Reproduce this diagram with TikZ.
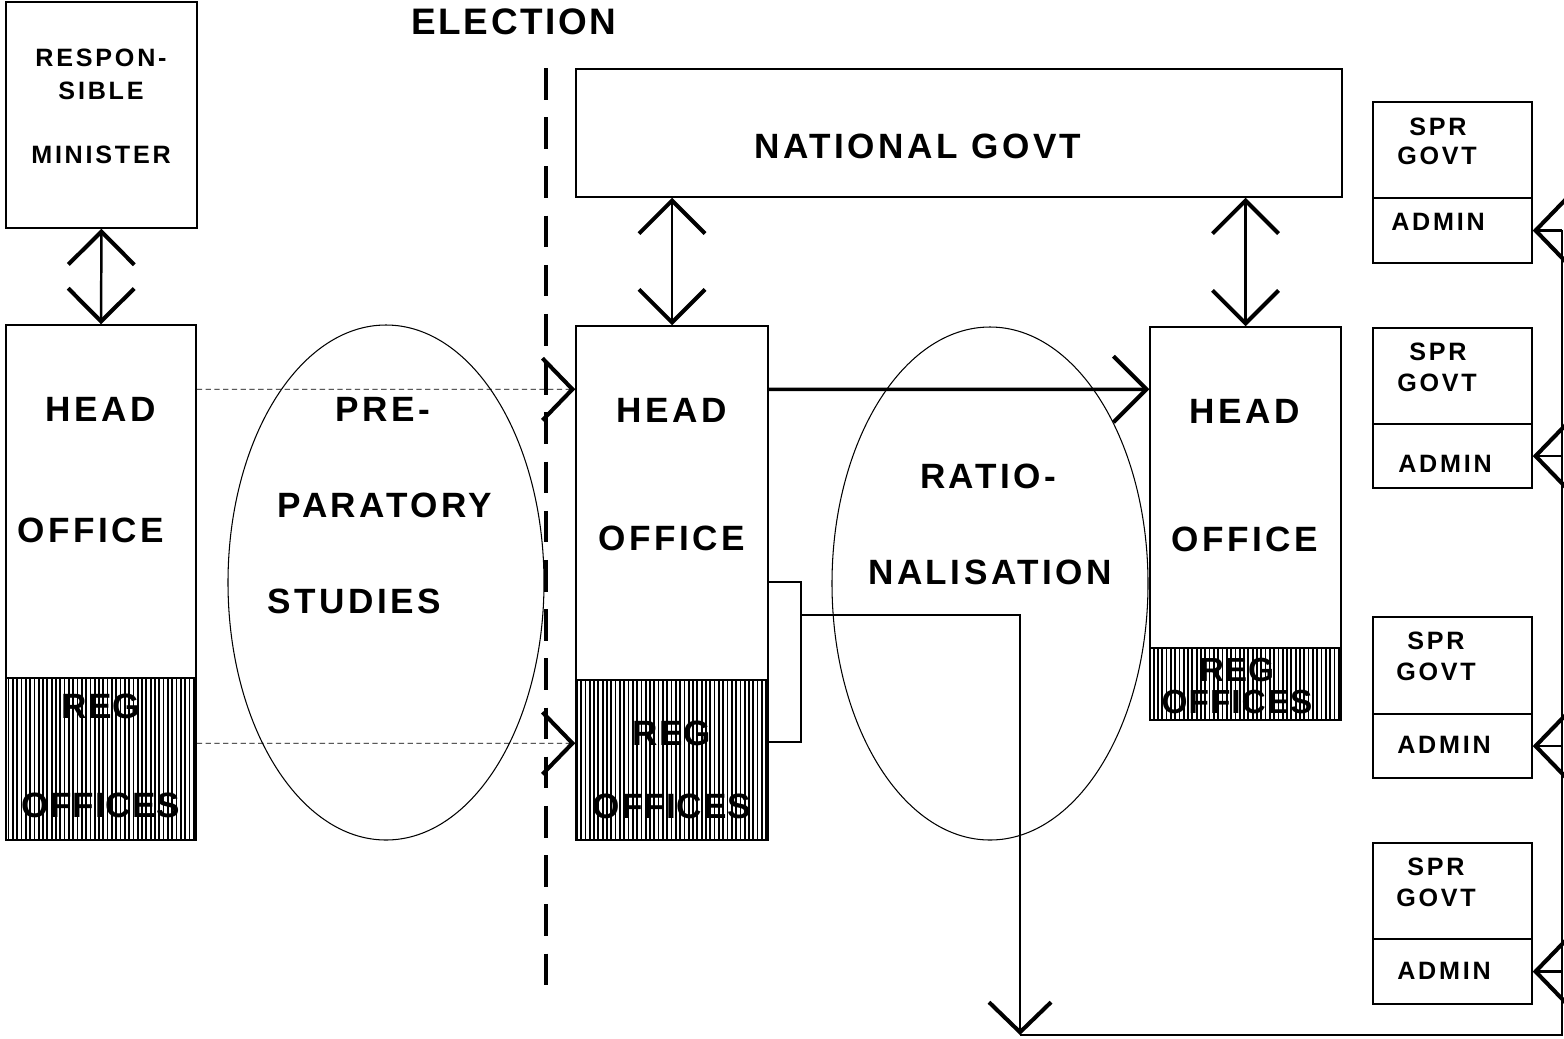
\documentclass[tikz,border=0pt]{standalone}
\usepackage{fontspec}
\setmainfont{Liberation Sans}[LetterSpace=10]
\newfontfamily\smf{Liberation Sans}[LetterSpace=11]
\newfontfamily\hatchf{Liberation Sans}[LetterSpace=3]
\newfontfamily\elecf{Liberation Sans}[LetterSpace=7]
\usetikzlibrary{arrows.meta,shapes.geometric,fit,patterns.meta,calc}
\tikzset{
  box/.style={draw, line width=0.85pt, inner sep=0pt},
  hatchbox/.style={draw, line width=0.85pt, inner sep=0pt,
    pattern={Lines[angle=90,distance=2.45pt,line width=1pt]}},
  big/.style={font=\fontsize{20}{24}\selectfont\bfseries, inner sep=0pt},
  hatchtext/.style={font=\hatchf\fontsize{20}{24}\selectfont\bfseries, inner sep=0pt},
  hatchsmall/.style={font=\hatchf\fontsize{19}{22}\selectfont\bfseries, inner sep=0pt},
  small/.style={font=\smf\fontsize{14.3}{17}\selectfont\bfseries, inner sep=0pt},
  oval/.style={draw, ellipse, line width=0.6pt, inner sep=0pt},
  Vee/.tip={Straight Barb[length=0.66cm, width=1.32cm, line width=2.3pt]},
  Veesm/.tip={Straight Barb[length=0.6cm, width=1.24cm, line width=2.3pt]},
  dbl/.style={line width=1.4pt, {Vee}-{Vee}},
  thick arrow/.style={line width=2pt, -{Vee}},
  thin dash/.style={line width=0.5pt, dash pattern=on 3pt off 2pt, -{Veesm}},
  conn/.style={line width=1.2pt},
  electionline/.style={line width=2.3pt, dash pattern=on 18pt off 10pt},
}
\begin{document}
\begin{tikzpicture}[x=0.02cm, y=-0.02cm]
\useasboundingbox (0,0) rectangle (1564,1038);
\fill[white] (0,0) rectangle (1564,1038);

% Responsible minister
\node[box, fit={(6,2)(197,228)}] (rm) {};
\node[small] (rm1) at (101,58) {RESPON-};
\node[small] (rm2) at (101,91) {SIBLE};
\node[small] (rm3) at (101,155) {MINISTER};

% Left head office
\node[box, fit={(6,325)(196,840)}] (ho1) {};
\node[hatchbox, fit={(6,678)(196,840)}] (rg1) {};
\node[big] (ho1a) at (101,409) {HEAD};
\node[big] (ho1b) at (91,530) {OFFICE};
\node[hatchtext] (rg1a) at (101,706) {REG};
\node[hatchtext] (rg1b) at (101,805) {OFFICES};

% Ellipse 1
\node[oval, minimum width=316*0.02cm, minimum height=515*0.02cm] (el1) at (386,582.5) {};
\node[big] (el1a) at (383,409) {PRE-};
\node[big] (el1b) at (385,505) {PARATORY};
\node[big] (el1c) at (354,601) {STUDIES};

% Election
\node[font=\elecf\fontsize{21}{25}\selectfont\bfseries, inner sep=0pt] (elec) at (514,22) {ELECTION};
\coordinate (elt) at (546,68);
\coordinate (elb) at (546,1002);
\draw[electionline] (elt) -- (elb);

% National govt
\node[box, fit={(576,69)(1342,197)}] (ng) {};
\node[big] (nga) at (918,146) {NATIONAL GOVT};

% Middle head office
\node[box, fit={(576,326)(768,840)}] (ho2) {};
\node[hatchbox, fit={(576,680)(768,840)}] (rg2) {};
\node[big] (ho2a) at (672,410) {HEAD};
\node[big] (ho2b) at (672,538) {OFFICE};
\node[hatchtext] (rg2a) at (672,733) {REG};
\node[hatchtext] (rg2b) at (672,806) {OFFICES};

% Ellipse 2
\node[oval, minimum width=316*0.02cm, minimum height=513*0.02cm] (el2) at (990,583.5) {};
\node[big] (el2a) at (988,476) {RATIO-};
\node[big] (el2b) at (990,572) {NALISATION};

% Right head office
\node[box, fit={(1150,327)(1341,720)}] (ho3) {};
\node[hatchbox, fit={(1150,648)(1341,720)}] (rg3) {};
\node[big] (ho3a) at (1245,411) {HEAD};
\node[big] (ho3b) at (1245,539) {OFFICE};
\node[hatchsmall] (rg3a) at (1237,670) {REG};
\node[hatchsmall] (rg3b) at (1237,702) {OFFICES};

% SPR boxes
\node[box, fit={(1373,102)(1532,198)}] (sp1) {};
\node[box, fit={(1373,198)(1532,263)}] (ad1) {};
\node[box, fit={(1373,328)(1532,424)}] (sp2) {};
\node[box, fit={(1373,424)(1532,488)}] (ad2) {};
\node[box, fit={(1373,617)(1532,714)}] (sp3) {};
\node[box, fit={(1373,714)(1532,778)}] (ad3) {};
\node[box, fit={(1373,843)(1532,939)}] (sp4) {};
\node[box, fit={(1373,939)(1532,1004)}] (ad4) {};
\node[small] (sp1a) at (1438,127) {SPR};
\node[small] (sp1b) at (1437,156) {GOVT};
\node[small] (ad1a) at (1438,222) {ADMIN};
\node[small] (sp2a) at (1438,352) {SPR};
\node[small] (sp2b) at (1437,383) {GOVT};
\node[small] (ad2a) at (1445,464) {ADMIN};
\node[small] (sp3a) at (1436,641) {SPR};
\node[small] (sp3b) at (1436,672) {GOVT};
\node[small] (ad3a) at (1444,745) {ADMIN};
\node[small] (sp4a) at (1436,867) {SPR};
\node[small] (sp4b) at (1436,898) {GOVT};
\node[small] (ad4a) at (1444,971) {ADMIN};

% Double arrows
\draw[dbl] (rm.south) -- (ho1.north);
\draw[dbl] (ho2.north |- ng.south) -- (ho2.north);
\draw[dbl] (ho3.north |- ng.south) -- (ho3.north);

% Dashed links across the election
\draw[thin dash] ($(ho1.north east)+(0,65)$) -- ($(ho2.north west)+(0,64)$);
\draw[thin dash] ($(ho1.north east)+(0,419)$) -- ($(ho2.north west)+(0,418)$);

% Head office to head office
\draw[thick arrow] ($(ho2.north east)+(0,64)$) -- ($(ho3.north west)+(0,63)$);

% Bracket and connector to the SPR admins
\draw[conn] ($(ho2.north east)+(0,257)$) -- ++(32,0) -- ++(0,160) -- ++(-32,0);
\coordinate (br) at (800,615);
\coordinate (bot) at (1020,1035);
\coordinate (rail) at (1562,1035);
\coordinate (railtop) at (1562,230);
\draw[conn, -{Veesm}] (br) -| (bot);
\draw[conn] (bot) -- (rail) -- (railtop);
\draw[conn, -{Veesm}] (ad1.east -| rail) -- (ad1.east);
\draw[conn, -{Veesm}] (ad2.east -| rail) -- (ad2.east);
\draw[conn, -{Veesm}] (ad3.east -| rail) -- (ad3.east);
\draw[conn, -{Veesm}] (ad4.east -| rail) -- (ad4.east);
\end{tikzpicture}
\end{document}
